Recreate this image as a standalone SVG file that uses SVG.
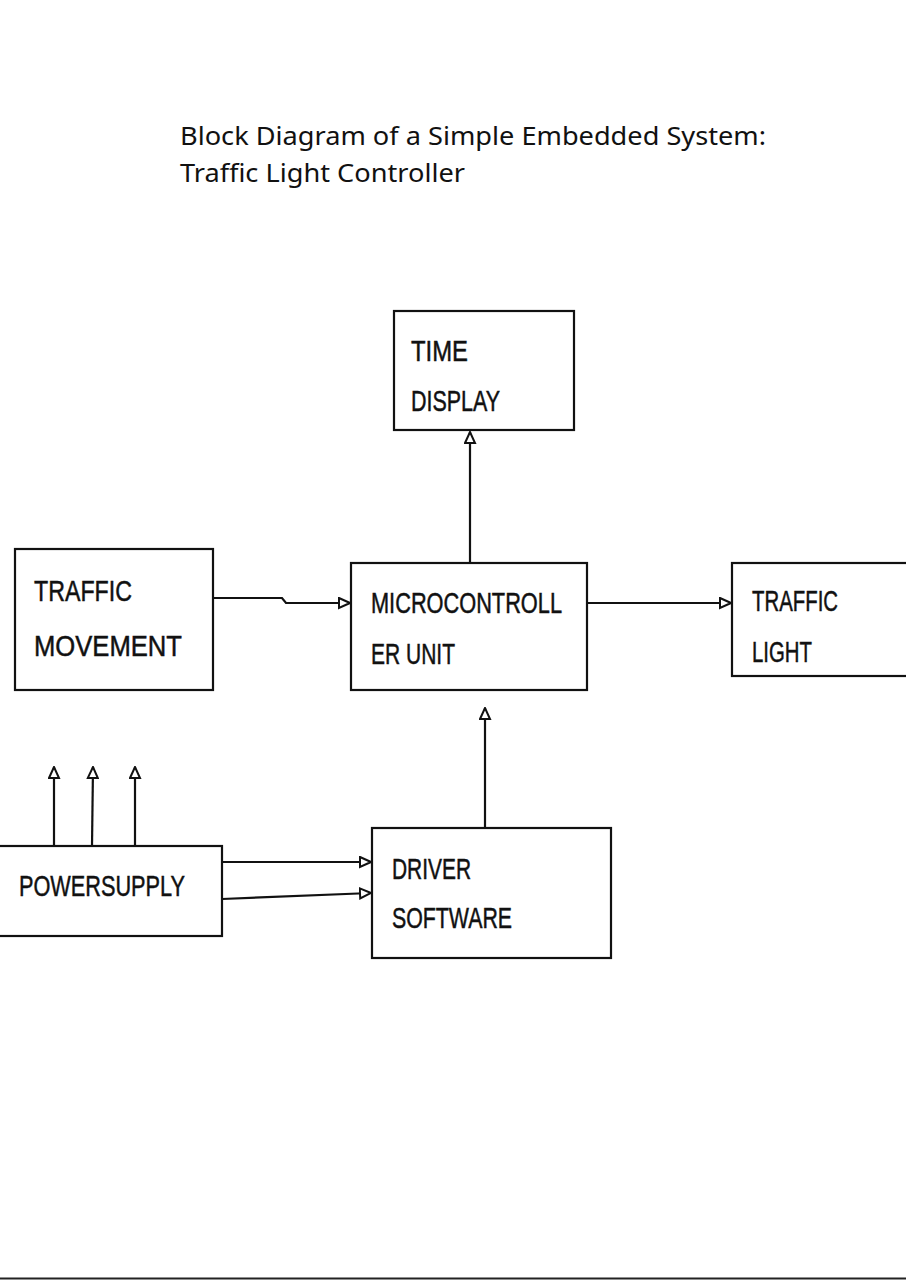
<svg xmlns="http://www.w3.org/2000/svg" width="906" height="1280" viewBox="0 0 906 1280">
<style>
.box{fill:#fff;stroke:#111;stroke-width:2.2}
.lbl{font-family:"Liberation Sans Narrow","Liberation Sans",sans-serif;font-size:30px;fill:#111;stroke:#111;stroke-width:0.5}
.title{font-family:"Noto Sans","Open Sans",sans-serif;font-size:26px;fill:#111}
.wire{fill:none;stroke:#111;stroke-width:2.2}
</style>
<defs>
<marker id="arr" viewBox="0 0 13 13" refX="12" refY="6.5" markerWidth="13" markerHeight="13" markerUnits="userSpaceOnUse" orient="auto">
<path d="M1,1.5 L12,6.5 L1,11.5 Z" fill="#fff" stroke="#111" stroke-width="2"/>
</marker>
</defs>
<rect width="906" height="1280" fill="#fff"/>
<g id="title">
<text class="title" x="180" y="145" textLength="586" lengthAdjust="spacingAndGlyphs">Block Diagram of a Simple Embedded System:</text>
<text class="title" x="180" y="182" textLength="285" lengthAdjust="spacingAndGlyphs">Traffic Light Controller</text>
</g>
<g id="connectors">
<path class="wire" d="M470,563 L470,432" marker-end="url(#arr)"/>
<path class="wire" d="M213,598 L282,598 L286,603 L350,603" marker-end="url(#arr)"/>
<path class="wire" d="M587,603 L731,603" marker-end="url(#arr)"/>
<path class="wire" d="M485,828 L485,708" marker-end="url(#arr)"/>
<path class="wire" d="M54,846 L54,767" marker-end="url(#arr)"/>
<path class="wire" d="M92,846 L93,767" marker-end="url(#arr)"/>
<path class="wire" d="M135,846 L135,767" marker-end="url(#arr)"/>
<path class="wire" d="M222,862 L371,862" marker-end="url(#arr)"/>
<path class="wire" d="M222,899 L371,893" marker-end="url(#arr)"/>
</g>
<g id="time-display">
<rect class="box" x="394" y="311" width="180" height="119"/>
<text class="lbl" x="411" y="361" textLength="57" lengthAdjust="spacingAndGlyphs">TIME</text>
<text class="lbl" x="411" y="411" textLength="89" lengthAdjust="spacingAndGlyphs">DISPLAY</text>
</g>
<g id="traffic-movement">
<rect class="box" x="15" y="549" width="198" height="141"/>
<text class="lbl" x="34" y="601" textLength="98" lengthAdjust="spacingAndGlyphs">TRAFFIC</text>
<text class="lbl" x="34" y="656" textLength="148" lengthAdjust="spacingAndGlyphs">MOVEMENT</text>
</g>
<g id="microcontroller">
<rect class="box" x="351" y="563" width="236" height="127"/>
<text class="lbl" x="371" y="613" textLength="191" lengthAdjust="spacingAndGlyphs">MICROCONTROLL</text>
<text class="lbl" x="371" y="664" textLength="84" lengthAdjust="spacingAndGlyphs">ER UNIT</text>
</g>
<g id="traffic-light">
<rect class="box" x="732" y="563" width="190" height="113"/>
<text class="lbl" x="752" y="611" textLength="86" lengthAdjust="spacingAndGlyphs">TRAFFIC</text>
<text class="lbl" x="752" y="662" textLength="60" lengthAdjust="spacingAndGlyphs">LIGHT</text>
</g>
<g id="power-supply">
<rect class="box" x="-2" y="846" width="224" height="90"/>
<text class="lbl" x="19" y="896" textLength="166" lengthAdjust="spacingAndGlyphs">POWERSUPPLY</text>
</g>
<g id="driver-software">
<rect class="box" x="372" y="828" width="239" height="130"/>
<text class="lbl" x="392" y="879" textLength="79" lengthAdjust="spacingAndGlyphs">DRIVER</text>
<text class="lbl" x="392" y="928" textLength="120" lengthAdjust="spacingAndGlyphs">SOFTWARE</text>
</g>
<line x1="0" y1="1278.5" x2="906" y2="1278.5" stroke="#222" stroke-width="2"/>
</svg>
